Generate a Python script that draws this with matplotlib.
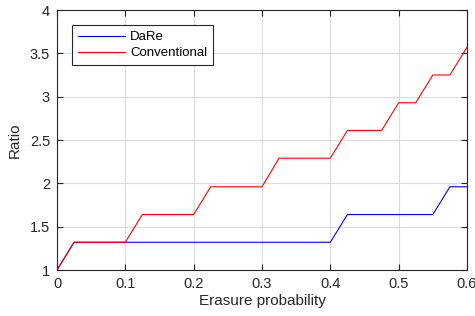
import numpy as np
import matplotlib
matplotlib.use('Agg')
import matplotlib.pyplot as plt

plt.rcParams['font.family'] = ['Liberation Sans', 'DejaVu Sans']

# erasure probability samples
p = [0, 0.025, 0.05, 0.075, 0.1, 0.125, 0.15, 0.175, 0.2, 0.225, 0.25, 0.275,
     0.3, 0.325, 0.35, 0.375, 0.4, 0.425, 0.45, 0.475, 0.5, 0.525, 0.55, 0.575, 0.6]

dare = [1.0, 1.32, 1.32, 1.32, 1.32, 1.32, 1.32, 1.32, 1.32, 1.32, 1.32, 1.32,
        1.32, 1.32, 1.32, 1.32, 1.32, 1.64, 1.64, 1.64, 1.64, 1.64, 1.64, 1.96, 1.96]

conv = [1.0, 1.32, 1.32, 1.32, 1.32, 1.64, 1.64, 1.64, 1.64, 1.96, 1.96, 1.96,
        1.96, 2.29, 2.29, 2.29, 2.29, 2.61, 2.61, 2.61, 2.93, 2.93, 3.25, 3.25, 3.57]

fig = plt.figure(figsize=(4.75, 3.16), dpi=100)
ax = fig.add_axes([57/475, 46/316, 410/475, 260/316])

ax.plot(p, dare, color='b', lw=0.8, label='DaRe')
ax.plot(p, conv, color='r', lw=0.8, label='Conventional')

ax.set_xlim(0, 0.6)
ax.set_ylim(1, 4)
ax.set_xticks([0, 0.1, 0.2, 0.3, 0.4, 0.5, 0.6])
ax.set_xticklabels(['0', '0.1', '0.2', '0.3', '0.4', '0.5', '0.6'])
ax.set_yticks([1, 1.5, 2, 2.5, 3, 3.5, 4])
ax.set_yticklabels(['1', '1.5', '2', '2.5', '3', '3.5', '4'])

ax.grid(True, color='#dcdcdc', lw=0.8)
ax.set_axisbelow(True)
ax.tick_params(direction='in', length=4, width=0.8, colors='#262626', pad=5,
               labelsize=10.5, top=True, right=True, labeltop=False, labelright=False)
for s in ax.spines.values():
    s.set_color('#262626')
    s.set_linewidth(0.8)

ax.set_xlabel('Erasure probability', fontsize=11, color='#262626', labelpad=2)
ax.set_ylabel('Ratio', fontsize=11, color='#262626', labelpad=6)

leg = ax.legend(loc='upper left', bbox_to_anchor=(0.0366, 0.942), borderaxespad=0,
                fontsize=9.5, fancybox=False, framealpha=1, edgecolor='#262626',
                handlelength=3.6, handletextpad=0.35, borderpad=0.45, labelspacing=0.3)
leg.get_frame().set_linewidth(0.8)

fig.savefig('out.png', dpi=100)
